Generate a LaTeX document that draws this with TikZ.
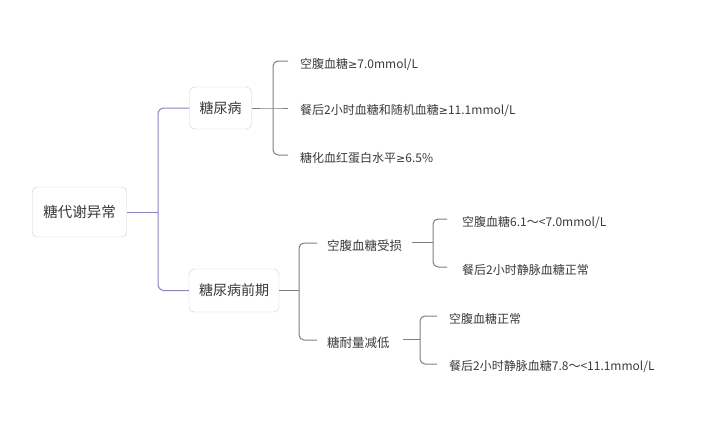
\documentclass[tikz,border=0pt]{standalone}
\usepackage{fontspec}
\setmainfont{Noto Sans CJK SC}
\newfontfamily\symfont{DejaVu Sans}
\newcommand{\geqsym}{{\symfont\fontsize{11}{14}\selectfont ≥}}
\usetikzlibrary{positioning}

\definecolor{boxline}{HTML}{CFCFCF}
\definecolor{rootline}{HTML}{8C83C2}
\definecolor{leafline}{HTML}{867D76}
\definecolor{txt}{HTML}{3A3A3A}

\tikzset{
  topic/.style={draw=boxline, rounded corners=5pt, fill=white, text=txt, inner xsep=10pt},
  leaf/.style={anchor=west, inner sep=0pt, text=txt, font=\fontsize{12}{14}\selectfont},
  rline/.style={draw=rootline, line width=1pt, rounded corners=6pt},
  gline/.style={draw=leafline, line width=1pt, rounded corners=5pt}
}

\begin{document}
\begin{tikzpicture}[x=1pt,y=-1pt]
    \useasboundingbox (0,0) rectangle (704,423);
    % topics
    \node[topic, minimum height=50pt, inner xsep=11pt, font=\fontsize{14.5}{16}\selectfont] (root) at (79.5,212) {糖代谢异常};
    \node[topic, minimum height=42pt, font=\fontsize{14}{16}\selectfont] (dm) at (220.5,108) {糖尿病};
    \node[topic, minimum height=43pt, font=\fontsize{14}{16}\selectfont] (pre) at (234,290.5) {糖尿病前期};
    \node[leaf, font=\fontsize{12.5}{14}\selectfont] (ifg) at (327,246) {空腹血糖受损};
    \node[leaf, font=\fontsize{12.5}{14}\selectfont] (igt) at (327,343) {糖耐量减低};
    % leaves
    \node[leaf] (dm1) at (300,64) {空腹血糖\geqsym7.0mmol/L};
    \node[leaf] (dm2) at (300,111) {餐后2小时血糖和随机血糖\geqsym11.1mmol/L};
    \node[leaf] (dm3) at (300,158) {糖化血红蛋白水平\geqsym6.5\%};
    \node[leaf] (ifg1) at (462,222) {空腹血糖6.1～<7.0mmol/L};
    \node[leaf] (ifg2) at (462,270) {餐后2小时静脉血糖正常};
    \node[leaf] (igt1) at (449,319) {空腹血糖正常};
    \node[leaf] (igt2) at (449,367) {餐后2小时静脉血糖7.8～<11.1mmol/L};
    % junctions
    \coordinate (j0) at (158,212);
    \coordinate (j1) at (273,108);
    \coordinate (j2) at (299,290.5);
    \coordinate (j3) at (433,242.5);
    \coordinate (j4) at (420,339.5);
    % connectors
    \draw[rline] (root.east) -- (j0);
    \draw[rline] (dm.west) -| (j0) |- (pre.west);
    \draw[gline] (dm.east) -- (j1) -- ([xshift=-12pt,yshift=3pt]dm2.west);
    \draw[gline] ([xshift=-12pt,yshift=3pt]dm1.west) -| (j1) |- ([xshift=-12pt,yshift=3pt]dm3.west);
    \draw[gline] (pre.east) -- (j2);
    \draw[gline] ([xshift=-10pt,yshift=3pt]ifg.west) -| (j2) |- ([xshift=-10pt,yshift=3pt]igt.west);
    \draw[gline] ([xshift=10pt]ifg.east |- j3) -- (j3);
    \draw[gline] ([xshift=-15pt,yshift=3pt]ifg1.west) -| (j3) |- ([xshift=-15pt,yshift=3pt]ifg2.west);
    \draw[gline] ([xshift=13pt]igt.east |- j4) -- (j4);
    \draw[gline] ([xshift=-12pt,yshift=3pt]igt1.west) -| (j4) |- ([xshift=-12pt,yshift=3pt]igt2.west);
\end{tikzpicture}
\end{document}
